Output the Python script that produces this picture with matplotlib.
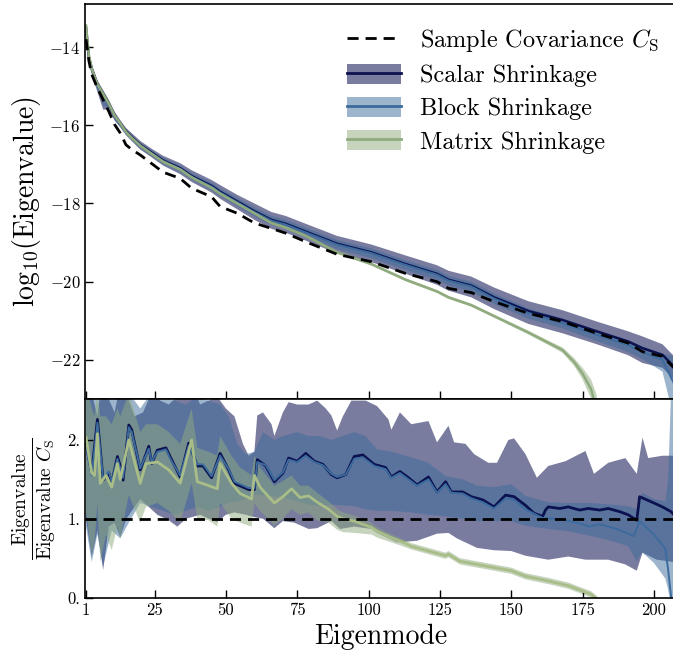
import numpy as np
import matplotlib
matplotlib.use("Agg")
import matplotlib.pyplot as plt
from matplotlib.lines import Line2D
from matplotlib.patches import Patch

plt.rcParams["font.family"] = "serif"
plt.rcParams["font.serif"] = ["cmr10"]
plt.rcParams["mathtext.fontset"] = "cm"
plt.rcParams["axes.formatter.use_mathtext"] = True

# ---------------- top panel: log10 eigenvalues ----------------
top_modes = [1, 2, 3, 5, 7, 9, 11, 13, 15, 17,
             20, 24, 28, 34, 38, 45, 48, 54, 60, 66,
             71, 78, 89, 101, 113, 124, 128, 136, 144, 156,
             168, 180, 191, 196, 203, 207]

sample_top = [-13.8, -14.35, -14.7, -15.05, -15.35, -15.65, -15.98, -16.2, -16.5, -16.62,
              -16.76, -16.98, -17.2, -17.36, -17.61, -17.83, -18.08, -18.25, -18.5, -18.64,
              -18.76, -18.98, -19.3, -19.49, -19.79, -20.0, -20.17, -20.28, -20.51, -20.81,
              -21.02, -21.32, -21.57, -21.79, -21.91, -22.2]

scalar_top = [-13.5, -14.25, -14.55, -14.95, -15.2, -15.45, -15.75, -15.95, -16.15, -16.3,
              -16.5, -16.7, -16.9, -17.1, -17.3, -17.55, -17.7, -17.95, -18.2, -18.42,
              -18.52, -18.72, -19.03, -19.25, -19.55, -19.8, -19.95, -20.1, -20.4, -20.75,
              -20.98, -21.27, -21.53, -21.7, -21.87, -22.17]
scalar_top_hi = [-13.4, -14.15, -14.45, -14.85, -15.1, -15.35, -15.65, -15.87, -16.07, -16.2,
                 -16.4, -16.6, -16.78, -16.97, -17.15, -17.4, -17.53, -17.78, -18.0, -18.22,
                 -18.32, -18.52, -18.83, -19.05, -19.33, -19.58, -19.72, -19.87, -20.15, -20.5,
                 -20.73, -21.02, -21.27, -21.4, -21.6, -21.9]
scalar_top_lo = [-13.6, -14.4, -14.7, -15.15, -15.6, -15.6, -15.88, -16.05, -16.25, -16.4,
                 -16.62, -16.82, -17.03, -17.25, -17.45, -17.72, -17.88, -18.15, -18.42, -18.65,
                 -18.75, -18.95, -19.28, -19.5, -19.8, -20.08, -20.23, -20.4, -20.7, -21.08,
                 -21.32, -21.6, -21.88, -22.08, -22.2, -22.5]

block_top = [-13.52, -14.27, -14.57, -14.97, -15.22, -15.47, -15.77, -15.97, -16.17, -16.32,
             -16.52, -16.72, -16.92, -17.12, -17.32, -17.57, -17.72, -17.97, -18.22, -18.44,
             -18.54, -18.74, -19.05, -19.27, -19.57, -19.82, -19.97, -20.12, -20.43, -20.8,
             -21.06, -21.36, -21.62, -21.8, -22.0, -22.6]
block_top_hi = [-13.45, -14.2, -14.5, -14.9, -15.15, -15.4, -15.7, -15.9, -16.1, -16.25,
                -16.45, -16.64, -16.83, -17.03, -17.22, -17.47, -17.62, -17.86, -18.1, -18.32,
                -18.42, -18.62, -18.93, -19.15, -19.45, -19.7, -19.85, -20.0, -20.3, -20.68,
                -20.95, -21.25, -21.5, -21.65, -21.85, -21.9]
block_top_lo = [-13.6, -14.35, -14.65, -15.1, -15.5, -15.55, -15.85, -16.05, -16.25, -16.4,
                -16.6, -16.8, -17.0, -17.2, -17.4, -17.66, -17.81, -18.07, -18.33, -18.55,
                -18.65, -18.86, -19.17, -19.4, -19.7, -19.96, -20.1, -20.26, -20.57, -20.95,
                -21.2, -21.52, -21.8, -21.98, -22.3, -23.5]

matrix_top_modes = [1, 2, 3, 5, 7, 9, 11, 13, 15, 17,
                    20, 24, 28, 34, 38, 45, 48, 54, 60, 66,
                    71, 78, 89, 101, 113, 124, 128, 136, 144, 156,
                    164, 168, 172, 175, 178, 180]
matrix_top = [-13.45, -14.2, -14.55, -14.95, -15.2, -15.45, -15.75, -15.95, -16.17, -16.32,
              -16.52, -16.73, -16.93, -17.13, -17.33, -17.6, -17.75, -18.0, -18.25, -18.5,
              -18.62, -18.83, -19.25, -19.55, -19.95, -20.25, -20.4, -20.6, -20.88, -21.3,
              -21.6, -21.75, -22.05, -22.35, -22.75, -23.3]
matrix_top_hi = [-13.38, -14.14, -14.49, -14.89, -15.14, -15.39, -15.69, -15.89, -16.11, -16.26,
                 -16.47, -16.68, -16.88, -17.08, -17.28, -17.56, -17.71, -17.96, -18.21, -18.46,
                 -18.58, -18.79, -19.21, -19.51, -19.91, -20.21, -20.36, -20.56, -20.84, -21.25,
                 -21.54, -21.68, -21.95, -22.2, -22.5, -22.9]
matrix_top_lo = [-13.52, -14.26, -14.61, -15.01, -15.3, -15.51, -15.81, -16.01, -16.23, -16.38,
                 -16.57, -16.78, -16.98, -17.18, -17.38, -17.64, -17.79, -18.04, -18.29, -18.54,
                 -18.66, -18.87, -19.29, -19.59, -19.99, -20.29, -20.44, -20.64, -20.92, -21.35,
                 -21.66, -21.82, -22.15, -22.5, -23.0, -23.7]

# ---------------- bottom panel: ratio to sample covariance ----------------
scalar_modes = [1, 3, 5, 7, 9, 10, 12, 13, 14, 16,
                17, 20, 23, 24, 26, 29, 31, 34, 37, 40,
                42, 45, 48, 51, 53, 58, 60, 61, 64, 67,
                70, 72, 75, 78, 81, 84, 87, 89, 92, 95,
                98, 102, 106, 108, 111, 114, 117, 121, 124, 127,
                129, 133, 136, 140, 144, 148, 151, 155, 158, 161,
                162, 163, 167, 170, 174, 177, 181, 184, 188, 191,
                194, 195, 200, 203, 206, 207]
scalar_ratio = [1.95, 1.58, 2.26, 1.49, 1.58, 1.45, 1.79, 1.67, 1.49, 2.19,
                2.13, 1.62, 1.92, 1.70, 1.87, 1.90, 1.75, 1.53, 1.96, 1.67,
                1.67, 1.52, 1.83, 1.62, 1.45, 1.37, 1.37, 1.75, 1.67, 1.47,
                1.58, 1.77, 1.73, 1.83, 1.73, 1.69, 1.56, 1.52, 1.56, 1.79,
                1.81, 1.69, 1.65, 1.53, 1.60, 1.52, 1.43, 1.53, 1.34, 1.47,
                1.34, 1.34, 1.28, 1.24, 1.15, 1.30, 1.28, 1.17, 1.07, 1.03,
                1.11, 1.15, 1.13, 1.15, 1.11, 1.13, 1.11, 1.13, 1.09, 1.05,
                0.98, 1.28, 1.20, 1.15, 1.09, 1.05]

scalar_hi_modes = [1, 3, 5, 6, 8, 11, 13, 15, 18, 21,
                   24, 27, 30, 33, 36, 38, 41, 44, 47, 50,
                   53, 56, 58, 60, 61, 63, 66, 67, 70, 72,
                   75, 79, 82, 85, 87, 89, 91, 94, 99, 103,
                   107, 108, 111, 115, 121, 124, 128, 130, 134, 137,
                   142, 145, 149, 151, 155, 159, 163, 169, 176, 179,
                   184, 190, 194, 196, 198, 203, 207]
scalar_ratio_hi = [2.7, 2.6, 2.3, 2.6, 2.6, 2.35, 2.7, 2.6, 2.3, 2.35,
                   2.6, 2.5, 2.45, 2.55, 2.6, 2.7, 2.45, 2.5, 2.55, 2.4,
                   2.3, 1.95, 1.80, 1.85, 2.31, 2.35, 2.20, 2.05, 2.35, 2.48,
                   2.45, 2.45, 2.50, 2.40, 2.31, 2.12, 2.30, 2.50, 2.50, 2.43,
                   2.26, 2.13, 2.35, 2.20, 2.24, 1.97, 2.18, 1.97, 1.95, 1.82,
                   1.71, 1.71, 2.00, 2.02, 1.82, 1.52, 1.67, 1.73, 1.86, 1.57,
                   1.71, 1.77, 1.57, 2.03, 1.77, 1.80, 1.80]
scalar_lo_modes = [1, 3, 5, 7, 9, 11, 13, 15, 18, 20,
                   23, 26, 30, 33, 36, 41, 44, 47, 50, 53,
                   57, 60, 63, 67, 70, 74, 79, 82, 87, 90,
                   95, 101, 103, 110, 117, 124, 128, 131, 138, 144,
                   150, 155, 163, 170, 176, 184, 190, 194, 196, 201,
                   207]
scalar_ratio_lo = [1.0, 0.52, 0.85, 0.35, 0.9, 0.95, 0.77, 0.99, 1.15, 1.25,
                   1.15, 1.05, 0.98, 0.9, 1.0, 1.05, 1.0, 0.96, 1.05, 1.08,
                   1.05, 1.02, 1.0, 0.88, 0.97, 0.95, 0.87, 0.88, 0.97, 0.87,
                   0.9, 0.87, 0.82, 0.70, 0.72, 0.81, 0.82, 0.75, 0.63, 0.60,
                   0.59, 0.53, 0.48, 0.52, 0.48, 0.48, 0.42, 0.34, 0.57, 0.48,
                   0.45]

block_modes = [1, 3, 5, 7, 9, 10, 12, 13, 14, 16,
               17, 20, 23, 24, 26, 29, 31, 34, 37, 40,
               42, 45, 48, 51, 53, 58, 60, 61, 64, 67,
               70, 72, 75, 78, 81, 84, 87, 89, 92, 95,
               98, 102, 106, 108, 111, 114, 117, 121, 124, 127,
               129, 133, 136, 140, 144, 148, 151, 155, 161, 168,
               175, 177, 181, 187, 193, 195, 200, 204, 205, 206,
               207]
block_ratio = [1.92, 1.55, 2.22, 1.50, 1.60, 1.47, 1.76, 1.64, 1.52, 2.16,
               2.10, 1.64, 1.89, 1.72, 1.85, 1.88, 1.73, 1.55, 1.93, 1.69,
               1.69, 1.54, 1.80, 1.63, 1.47, 1.39, 1.39, 1.72, 1.68, 1.49,
               1.59, 1.75, 1.72, 1.80, 1.72, 1.68, 1.57, 1.53, 1.56, 1.76,
               1.78, 1.67, 1.63, 1.52, 1.58, 1.50, 1.42, 1.50, 1.33, 1.44,
               1.33, 1.32, 1.26, 1.21, 1.13, 1.26, 1.24, 1.12, 1.01, 0.99,
               0.93, 0.90, 0.93, 0.87, 0.78, 0.97, 0.80, 0.62, 0.35, 0.02,
               -0.30]
block_band_modes = [1, 3, 5, 7, 10, 13, 16, 20, 24, 28,
                    32, 36, 40, 44, 48, 51, 54, 57, 60, 63,
                    67, 70, 75, 79, 83, 87, 91, 95, 99, 103,
                    108, 115, 121, 127, 133, 138, 144, 150, 155, 163,
                    170, 178, 185, 191, 194, 196, 200, 204, 205, 206,
                    207]
block_ratio_hi = [2.7, 2.6, 2.5, 2.7, 2.6, 2.7, 2.6, 2.4, 2.6, 2.55,
                  2.5, 2.45, 2.55, 2.5, 2.45, 2.3, 1.95, 1.82, 1.85, 2.1,
                  2.0, 2.05, 2.1, 2.05, 2.05, 2.0, 2.05, 2.1, 2.05, 1.88,
                  1.85, 1.78, 1.71, 1.54, 1.50, 1.42, 1.40, 1.44, 1.29, 1.21,
                  1.20, 1.20, 1.18, 1.16, 1.12, 1.33, 1.25, 1.22, 1.5, 2.6,
                  2.7]
block_ratio_lo = [0.9, 0.45, 0.8, 0.4, 0.85, 0.75, 0.95, 1.2, 1.15, 1.1,
                  1.05, 1.1, 1.15, 1.1, 1.15, 1.2, 1.22, 1.25, 1.3, 1.3,
                  1.28, 1.27, 1.22, 1.18, 1.16, 1.18, 1.17, 1.16, 1.12, 1.1,
                  1.1, 1.08, 1.05, 1.03, 1.0, 0.97, 0.97, 0.97, 0.91, 0.87,
                  0.84, 0.78, 0.72, 0.65, 0.46, 0.57, 0.44, 0.24, 0.1, -0.1,
                  -0.2]

matrix_modes = [1, 3, 4, 5, 6, 8, 10, 12, 13, 16,
                20, 22, 26, 30, 34, 38, 40, 44, 47, 48,
                52, 55, 59, 60, 62, 67, 70, 73, 76, 79,
                82, 86, 89, 91, 95, 101, 103, 108, 112, 115,
                121, 127, 128, 132, 138, 144, 150, 155, 163, 170,
                178, 180, 182]
matrix_ratio = [2.03, 1.58, 1.55, 2.08, 1.45, 1.55, 1.40, 1.70, 1.50, 2.00,
                1.45, 1.70, 1.72, 1.62, 1.45, 2.00, 1.47, 1.42, 1.38, 1.70,
                1.45, 1.32, 1.25, 1.55, 1.40, 1.20, 1.28, 1.38, 1.27, 1.29,
                1.21, 1.12, 1.03, 1.00, 0.97, 0.89, 0.84, 0.76, 0.70, 0.65,
                0.59, 0.53, 0.55, 0.46, 0.42, 0.38, 0.34, 0.27, 0.21, 0.15,
                0.04, -0.02, -0.10]
matrix_ratio_hi = [2.7, 2.4, 2.3, 2.6, 2.3, 2.3, 2.2, 2.4, 2.3, 2.6,
                   2.1, 2.2, 2.2, 2.1, 1.95, 2.4, 1.9, 1.85, 1.8, 2.05,
                   1.8, 1.65, 1.55, 1.8, 1.65, 1.42, 1.48, 1.55, 1.42, 1.42,
                   1.33, 1.22, 1.12, 1.08, 1.04, 0.95, 0.89, 0.80, 0.74, 0.69,
                   0.63, 0.57, 0.59, 0.50, 0.46, 0.42, 0.38, 0.31, 0.25, 0.19,
                   0.08, 0.02, -0.06]
matrix_ratio_lo = [1.1, 0.55, 0.7, 1.2, 0.45, 0.8, 0.6, 0.9, 0.75, 1.3,
                   0.95, 1.15, 1.2, 1.1, 0.95, 1.45, 1.0, 0.98, 0.9, 1.2,
                   1.0, 0.95, 0.9, 1.2, 1.1, 0.92, 1.0, 1.12, 1.05, 1.08,
                   0.98, 0.95, 0.86, 0.83, 0.82, 0.80, 0.76, 0.70, 0.65, 0.61,
                   0.55, 0.49, 0.51, 0.42, 0.38, 0.34, 0.30, 0.23, 0.17, 0.11,
                   0.00, -0.06, -0.14]

labels = ["Sample Covariance $C_\\mathrm{S}$", "Scalar Shrinkage",
          "Block Shrinkage", "Matrix Shrinkage"]
c_scalar = "#0c1150"
c_block = "#3c6b9d"
c_matrix = "#8fab7e"

fig = plt.figure(figsize=(6.73, 6.57), dpi=100)
ax1 = fig.add_axes([85.3 / 673, 1 - 399 / 657, 590 / 673, 395 / 657])
ax2 = fig.add_axes([85.3 / 673, 1 - 597.5 / 657, 590 / 673, 198.5 / 657])


def band(ax, xh, yh, xl, yl, color, alpha):
    xs = np.concatenate([xh, xl[::-1]])
    ys = np.concatenate([yh, yl[::-1]])
    ax.fill(xs, ys, color=color, alpha=alpha, lw=0)


# top
band(ax1, np.array(top_modes), np.array(scalar_top_hi), np.array(top_modes),
     np.array(scalar_top_lo), c_scalar, 0.55)
band(ax1, np.array(top_modes), np.array(block_top_hi), np.array(top_modes),
     np.array(block_top_lo), c_block, 0.5)
band(ax1, np.array(matrix_top_modes), np.array(matrix_top_hi), np.array(matrix_top_modes),
     np.array(matrix_top_lo), c_matrix, 0.5)
ax1.plot(top_modes, scalar_top, color=c_scalar, lw=1.8)
ax1.plot(top_modes, block_top, color=c_block, lw=1.4)
ax1.plot(matrix_top_modes, matrix_top, color=c_matrix, lw=1.8)
ax1.plot(top_modes, sample_top, color="black", ls=(0, (4, 2.5)), lw=2)

# bottom
band(ax2, np.array(scalar_hi_modes), np.array(scalar_ratio_hi), np.array(scalar_lo_modes),
     np.array(scalar_ratio_lo), c_scalar, 0.55)
band(ax2, np.array(block_band_modes), np.array(block_ratio_hi), np.array(block_band_modes),
     np.array(block_ratio_lo), c_block, 0.5)
band(ax2, np.array(matrix_modes), np.array(matrix_ratio_hi), np.array(matrix_modes),
     np.array(matrix_ratio_lo), c_matrix, 0.5)
ax2.plot(scalar_modes, scalar_ratio, color=c_scalar, lw=2)
ax2.plot(block_modes, block_ratio, color=c_block, lw=1.4)
ax2.plot(matrix_modes, matrix_ratio, color="#a9bd88", lw=2)
ax2.axhline(1.0, color="black", ls=(0, (4, 2.5)), lw=2)

xticks = [1, 25, 50, 75, 100, 125, 150, 175, 200]
for ax in (ax1, ax2):
    ax.set_xlim(0.75, 207.5)
    ax.set_xticks(xticks)
    ax.tick_params(direction="in", length=6, width=1, labelsize=12)
    for s in ax.spines.values():
        s.set_linewidth(1.2)
ax1.tick_params(labelbottom=False)

ax1.set_ylim(-23.0, -12.9)
ax1.set_yticks([-14, -16, -18, -20, -22])
ax1.set_yticklabels(["$-14$", "$-16$", "$-18$", "$-20$", "$-22$"])
ax1.set_ylabel("log$_{10}$(Eigenvalue)", fontsize=20)
ax1.yaxis.set_label_coords(-0.072, 0.5)

ax2.set_ylim(0, 2.52)
ax2.set_yticks([0, 1, 2])
ax2.set_yticklabels(["0.", "1.", "2."])
ax2.set_xticklabels([str(t) for t in xticks])
ax2.set_ylabel(r"$\dfrac{\mathrm{Eigenvalue}}{\mathrm{Eigenvalue}\ C_\mathrm{S}}$", fontsize=14)
ax2.yaxis.set_label_coords(-0.046, 0.5)
ax2.set_xlabel("Eigenmode", fontsize=20)

handles = [
    Line2D([], [], color="black", ls=(0, (4, 2.5)), lw=2),
    (Patch(facecolor=c_scalar, alpha=0.55, lw=0), Line2D([], [], color=c_scalar, lw=2)),
    (Patch(facecolor=c_block, alpha=0.5, lw=0), Line2D([], [], color=c_block, lw=2)),
    (Patch(facecolor=c_matrix, alpha=0.5, lw=0), Line2D([], [], color=c_matrix, lw=2)),
]
ax1.legend(handles, labels, loc="upper right", frameon=False, fontsize=17.5,
           handlelength=2.2, handleheight=0.9, labelspacing=0.4,
           bbox_to_anchor=(1.01, 0.997))

fig.savefig("out.png", dpi=100)
